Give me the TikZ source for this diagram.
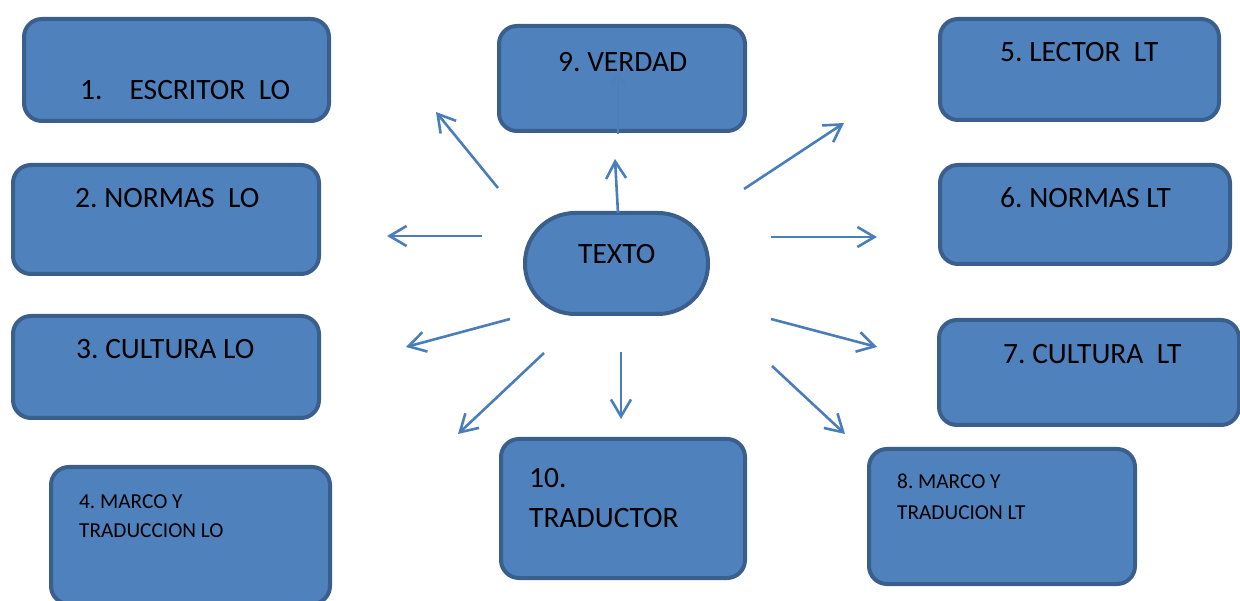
\documentclass[tikz,border=0pt]{standalone}
\usepackage{fontspec}
\setmainfont{Carlito}
\usetikzlibrary{arrows.meta}
\frenchspacing
\definecolor{boxfill}{HTML}{4F81BD}
\definecolor{boxline}{HTML}{3A5F8C}
\definecolor{arrowcol}{HTML}{4A7EBB}
\tikzset{
  box/.style={draw=boxline, fill=boxfill, line width=4pt, rounded corners=18pt, inner sep=0pt},
  pill/.style={draw=boxline, fill=boxfill, line width=4pt, rounded corners=50pt, inner sep=0pt},
  big/.style={anchor=base west, inner sep=0pt, font=\fontsize{29.5}{31}\selectfont, text=black},
  small/.style={anchor=base west, inner sep=0pt, font=\fontsize{21.3}{23}\selectfont, text=black},
  ray/.style={draw=arrowcol, line width=2.6pt, -{Straight Barb[length=17pt,width=20pt,line width=2.6pt]}},
  faintray/.style={draw=arrowcol!55!boxfill, line width=2pt, -{Straight Barb[length=10pt,width=14pt,line width=2pt]}}
}
\begin{document}
\begin{tikzpicture}[x=1pt,y=-1pt]
\useasboundingbox (0,0) rectangle (1240,601);
\clip (0,0) rectangle (1240,601);
% boxes
\node[box, minimum width=305pt, minimum height=102pt] (b1) at (176.5,70) {};
\node[box, minimum width=306pt, minimum height=109pt] (b2) at (166,219.5) {};
\node[box, minimum width=306pt, minimum height=102pt] (b3) at (166,367) {};
\node[box, minimum width=279pt, minimum height=137pt] (b4) at (190.5,535.5) {};
\node[box, minimum width=246pt, minimum height=105pt] (b9) at (622,78.5) {};
\node[pill, minimum width=183pt, minimum height=101pt] (tx) at (616.5,263.5) {};
\node[box, minimum width=244pt, minimum height=139pt] (b10) at (623,508.5) {};
\node[box, minimum width=279pt, minimum height=101pt] (b5) at (1079.5,69.5) {};
\node[box, minimum width=290pt, minimum height=99pt] (b6) at (1085,214.5) {};
\node[box, minimum width=300pt, minimum height=105pt] (b7) at (1089,372.5) {};
\node[box, minimum width=266pt, minimum height=135pt] (b8) at (1002,516.5) {};
% texts
\node[big] (t1) at (80,100) {1.\hspace{27pt}ESCRITOR\ \ LO};
\node[big] (t2) at (75,208) {2. NORMAS\ \ LO};
\node[big] (t3) at (76,359) {3. CULTURA LO};
\node[small] (t4a) at (79,508) {4. MARCO Y};
\node[small] (t4b) at (79,537) {TRADUCCION LO};
\node[big] (t9) at (558,72) {9. VERDAD};
\node[big] (ttx) at (578,264) {TEXTO};
\node[big] (t10a) at (529,487) {10.};
\node[big] (t10b) at (529,527) {TRADUCTOR};
\node[big] (t5) at (1000,62) {5. LECTOR\ \ LT};
\node[big] (t6) at (1000,208) {6. NORMAS LT};
\node[big] (t7) at (1003,364) {7. CULTURA\ \ LT};
\node[small] (t8a) at (897,488) {8. MARCO Y};
\node[small] (t8b) at (897,519) {TRADUCION LT};
% arrow end points
\coordinate (s1) at (498,188); \coordinate (e1) at (436,112);
\coordinate (s2) at (482,236); \coordinate (e2) at (387,236);
\coordinate (s3) at (510,319); \coordinate (e3) at (406,347);
\coordinate (s4) at (544,353); \coordinate (e4) at (458,434);
\coordinate (s5) at (621,352); \coordinate (e5) at (621,419);
\coordinate (s6) at (618,213); \coordinate (e6) at (615,159);
\coordinate (s6b) at (618,134); \coordinate (e6b) at (618,73);
\coordinate (s7) at (744,189); \coordinate (e7) at (844,123);
\coordinate (s8) at (771,237); \coordinate (e8) at (877,237);
\coordinate (s9) at (771,319); \coordinate (e9) at (877,347);
\coordinate (s10) at (772,366); \coordinate (e10) at (845,434);
% arrows
\draw[ray] (s1) -- (e1);
\draw[ray] (s2) -- (e2);
\draw[ray] (s3) -- (e3);
\draw[ray] (s4) -- (e4);
\draw[ray] (s5) -- (e5);
\draw[ray] (s6) -- (e6);
\draw[faintray] (s6b) -- (e6b);
\draw[ray] (s7) -- (e7);
\draw[ray] (s8) -- (e8);
\draw[ray] (s9) -- (e9);
\draw[ray] (s10) -- (e10);
\end{tikzpicture}
\end{document}
